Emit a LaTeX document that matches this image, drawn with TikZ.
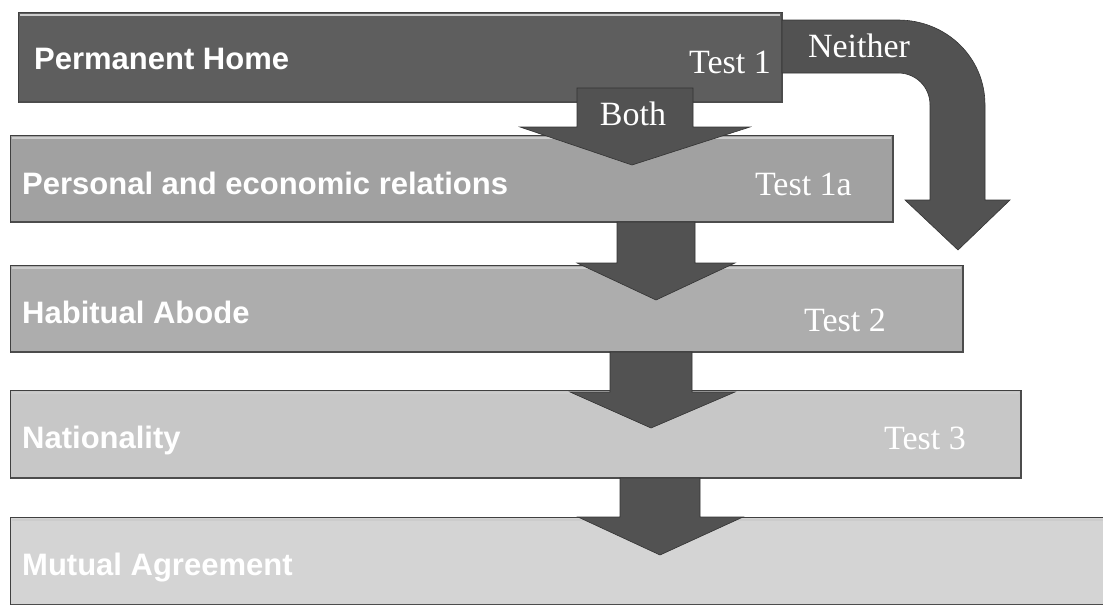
\documentclass[tikz,border=0pt]{standalone}
\usepackage{fontspec}
\setmainfont{Liberation Serif}
\setsansfont{Liberation Sans}
\begin{document}
\begin{tikzpicture}[x=1pt,y=-1pt,
  stage/.style={draw=black!75,line width=0.8pt,anchor=north west,inner sep=0pt},
  title/.style={anchor=west,text=white,font=\sffamily\bfseries\fontsize{31}{32}\selectfont,inner sep=0pt},
  testlbl/.style={anchor=east,text=white,font=\fontsize{34}{36}\selectfont,inner sep=0pt},
  flow/.style={fill=black!68,draw=black!80,line width=0.6pt,line join=miter},
  flowlbl/.style={text=white,font=\fontsize{34}{36}\selectfont,inner sep=0pt},
  shine/.style={white!80!black,line width=1.5pt},
  shade/.style={black!70,line width=2pt}]
\useasboundingbox (0,0) rectangle (1103,605);
\fill[white] (0,0) rectangle (1103,605);

% stages, darkest first
\node[stage,fill=black!63,minimum width=764pt,minimum height=90pt] (b1) at (18,12) {};
\node[stage,fill=black!37,minimum width=883pt,minimum height=87pt] (b2) at (10,135) {};
\node[stage,fill=black!32,minimum width=953pt,minimum height=87pt] (b3) at (10,265) {};
\node[stage,fill=black!22,minimum width=1011pt,minimum height=88pt] (b4) at (10,390) {};
\node[stage,fill=black!17,minimum width=1100pt,minimum height=88pt] (b5) at (10,517) {};

% bevel: light upper edge, dark lower and right edges
\foreach \b in {b1,b2,b3,b4,b5}{
  \draw[shine] ([shift={(2pt,-3pt)}]\b.north west) -- ([shift={(-3pt,-3pt)}]\b.north east);
  \draw[shade] ([shift={(1pt,1pt)}]\b.south west) -- ([shift={(-1pt,1pt)}]\b.south east) -- ([shift={(-1pt,-1pt)}]\b.north east);
}

% stage titles
\node[title] (t1) at (34,59) {Permanent Home};
\node[title] (t2) at (22,183) {Personal and economic relations};
\node[title] (t3) at (22,312) {Habitual Abode};
\node[title] (t4) at (22,440) {Nationality};
\node[title] (t5) at (22,568) {Mutual Agreement};

% test labels
\node[testlbl] (l1) at (771,62) {Test 1};
\node[testlbl] (l2) at (852,184) {Test 1a};
\node[testlbl] (l3) at (886,320) {Test 2};
\node[testlbl] (l4) at (966,438) {Test 3};

% downward block arrows between stages
\draw[flow] (577,88) -- (693,88) -- (693,127) -- (750,127) -- (632,165) -- (520,127) -- (577,127) -- cycle;
\draw[flow] (617,222) -- (695,222) -- (695,263) -- (735,263) -- (656,300) -- (577,263) -- (617,263) -- cycle;
\draw[flow] (610,352) -- (692,352) -- (692,392) -- (735,392) -- (651,428) -- (570,392) -- (610,392) -- cycle;
\draw[flow] (620,478) -- (700,478) -- (700,517) -- (743,517) -- (660,555) -- (578,517) -- (620,517) -- cycle;

% bent arrow for the "Neither" case
\draw[flow] (782,20) -- (898,20) .. controls (946,20) and (985,57) .. (985,105)
  -- (985,200) -- (1010,200) -- (958,250) -- (905,200) -- (930,200) -- (930,105)
  .. controls (930,87) and (916,73) .. (898,73) -- (782,73) -- cycle;

\node[flowlbl] (both) at (633,114) {Both};
\node[flowlbl] (neither) at (859,46) {Neither};
\end{tikzpicture}
\end{document}
